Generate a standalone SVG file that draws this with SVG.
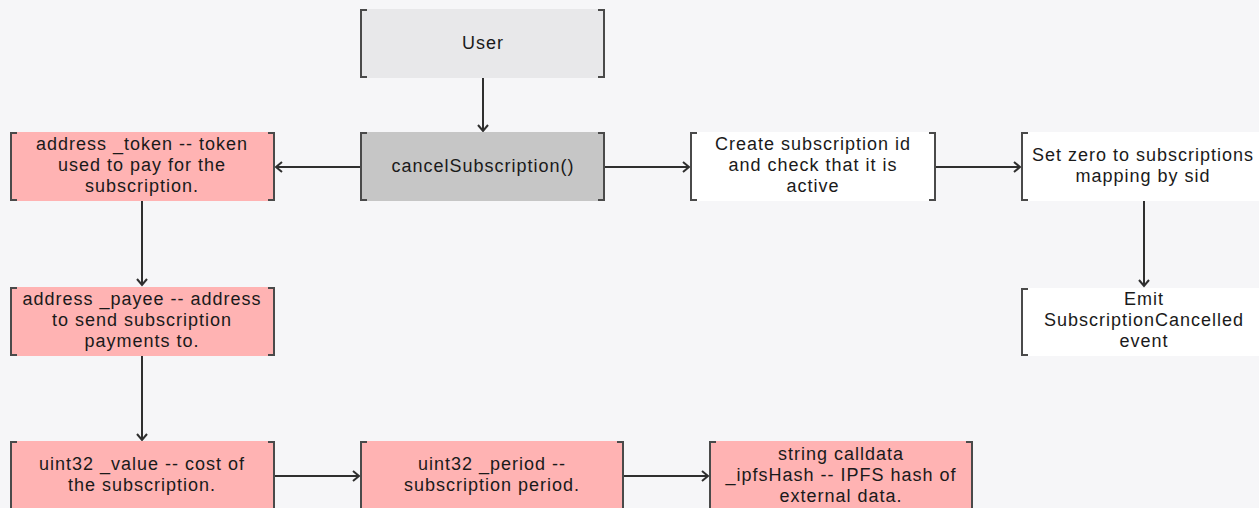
<svg xmlns="http://www.w3.org/2000/svg" width="1259" height="508" viewBox="0 0 1259 508">
<defs>
<style>
.t{font-family:"Liberation Sans",Arial,sans-serif;font-size:18px;letter-spacing:1px;fill:#1a1a1a;text-anchor:middle}
.b{fill:none;stroke:#4a4a4a;stroke-width:2}
.c{fill:none;stroke:#2f2f2f;stroke-width:2}
.pink{fill:#ffb3b3}
.white{fill:#ffffff}
</style>
<marker id="ah" markerWidth="12" markerHeight="12" refX="9" refY="6" orient="auto" markerUnits="userSpaceOnUse">
<path d="M3,1 L9,6 L3,11" fill="none" stroke="#2f2f2f" stroke-width="2"/>
</marker>
</defs>
<rect width="1259" height="508" fill="#f6f6f8"/>
<g id="connectors">
<line class="c" x1="483" y1="78" x2="483" y2="131" marker-end="url(#ah)"/>
<line class="c" x1="360" y1="167" x2="276" y2="167" marker-end="url(#ah)"/>
<line class="c" x1="605" y1="167" x2="689" y2="167" marker-end="url(#ah)"/>
<line class="c" x1="936" y1="167" x2="1020" y2="167" marker-end="url(#ah)"/>
<line class="c" x1="1144" y1="201" x2="1144" y2="286" marker-end="url(#ah)"/>
<line class="c" x1="142" y1="201" x2="142" y2="285" marker-end="url(#ah)"/>
<line class="c" x1="142" y1="356" x2="142" y2="440" marker-end="url(#ah)"/>
<line class="c" x1="275" y1="476" x2="359" y2="476" marker-end="url(#ah)"/>
<line class="c" x1="624" y1="476" x2="708" y2="476" marker-end="url(#ah)"/>
</g>
<g id="user">
<rect x="360" y="9" width="245" height="69" fill="#e8e8ea"/>
<path class="b" d="M367,10 H361 V77 H367 M598,10 H604 V77 H598"/>
<text class="t" x="483" y="49">User</text>
</g>
<g id="cancel">
<rect x="360" y="132" width="245" height="69" fill="#c6c6c6"/>
<path class="b" d="M367,133 H361 V200 H367 M598,133 H604 V200 H598"/>
<text class="t" x="483" y="172">cancelSubscription()</text>
</g>
<g id="token">
<rect class="pink" x="10" y="132" width="265" height="69"/>
<path class="b" d="M17,133 H11 V200 H17 M268,133 H274 V200 H268"/>
<text class="t" x="142" y="150">address _token -- token</text>
<text class="t" x="142" y="171">used to pay for the</text>
<text class="t" x="142" y="192">subscription.</text>
</g>
<g id="payee">
<rect class="pink" x="10" y="287" width="265" height="69"/>
<path class="b" d="M17,288 H11 V355 H17 M268,288 H274 V355 H268"/>
<text class="t" x="142" y="305">address _payee -- address</text>
<text class="t" x="142" y="326">to send subscription</text>
<text class="t" x="142" y="347">payments to.</text>
</g>
<g id="create">
<rect class="white" x="690" y="132" width="246" height="69"/>
<path class="b" d="M697,133 H691 V200 H697 M929,133 H935 V200 H929"/>
<text class="t" x="813" y="150">Create subscription id</text>
<text class="t" x="813" y="171">and check that it is</text>
<text class="t" x="813" y="192">active</text>
</g>
<g id="setzero">
<rect class="white" x="1021" y="132" width="246" height="69"/>
<path class="b" d="M1028,133 H1022 V200 H1028"/>
<text class="t" x="1143" y="161">Set zero to subscriptions</text>
<text class="t" x="1143" y="182">mapping by sid</text>
</g>
<g id="emit">
<rect class="white" x="1021" y="288" width="246" height="68"/>
<path class="b" d="M1028,289 H1022 V355 H1028"/>
<text class="t" x="1144" y="305">Emit</text>
<text class="t" x="1144" y="326">SubscriptionCancelled</text>
<text class="t" x="1144" y="347">event</text>
</g>
<g id="value">
<rect class="pink" x="10" y="441" width="265" height="69"/>
<path class="b" d="M17,442 H11 V509 M268,442 H274 V509"/>
<text class="t" x="142" y="470">uint32 _value -- cost of</text>
<text class="t" x="142" y="491">the subscription.</text>
</g>
<g id="period">
<rect class="pink" x="360" y="441" width="264" height="69"/>
<path class="b" d="M367,442 H361 V509 M617,442 H623 V509"/>
<text class="t" x="492" y="470">uint32 _period --</text>
<text class="t" x="492" y="491">subscription period.</text>
</g>
<g id="calldata">
<rect class="pink" x="709" y="441" width="264" height="69"/>
<path class="b" d="M716,442 H710 V509 M966,442 H972 V509"/>
<text class="t" x="841" y="460">string calldata</text>
<text class="t" x="841" y="481">_ipfsHash -- IPFS hash of</text>
<text class="t" x="841" y="502">external data.</text>
</g>
</svg>
